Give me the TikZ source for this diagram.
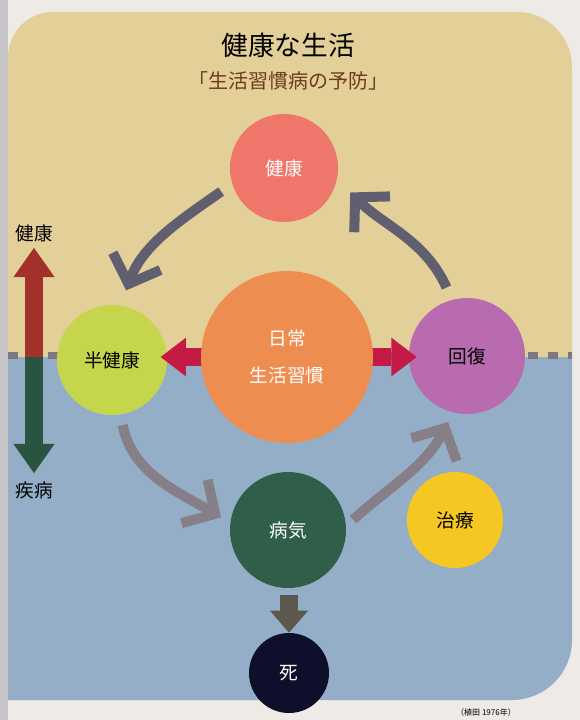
\documentclass[tikz,border=0pt]{standalone}
\usepackage{fontspec}
\setmainfont{Noto Sans CJK JP}
\usetikzlibrary{arrows.meta}

\pgfdeclarelayer{front}
\pgfsetlayers{main,front}

\definecolor{paper}{RGB}{238,234,229}
\definecolor{strip}{RGB}{200,197,200}
\definecolor{sand}{RGB}{227,207,152}
\definecolor{sea}{RGB}{148,174,200}
\definecolor{seam}{RGB}{125,120,128}
\definecolor{cKenko}{RGB}{238,118,106}
\definecolor{cHan}{RGB}{197,214,76}
\definecolor{cNichijo}{RGB}{238,141,80}
\definecolor{cKaifuku}{RGB}{184,107,174}
\definecolor{cByoki}{RGB}{47,94,73}
\definecolor{cChiryo}{RGB}{246,199,34}
\definecolor{cShi}{RGB}{14,15,42}
\definecolor{loopTop}{RGB}{96,95,112}
\definecolor{loopLow}{RGB}{135,127,135}
\definecolor{crimson}{RGB}{196,26,69}
\definecolor{fall}{RGB}{92,88,78}
\definecolor{upRed}{RGB}{162,48,43}
\definecolor{downGreen}{RGB}{42,84,66}
\definecolor{subBrown}{RGB}{110,59,31}

\tikzset{every picture/.style={line width=0.75pt},
  ball/.style={circle,inner sep=0pt,align=center,font=\fontsize{14}{28}\selectfont},
  sidelabel/.style={inner sep=0pt,font=\fontsize{14}{16}\selectfont},
  looparrow/.style={line width=7.5pt,-{Straight Barb[length=18pt,width=38pt]}},
  sidearrow/.style={line width=13.5pt,-{Triangle[length=22pt,width=31pt,line width=0pt]}},
  pusharrow/.style={line width=14pt,crimson,-{Triangle[length=19pt,width=29pt,line width=0pt]}}
}

\begin{document}
\begin{tikzpicture}[x=0.75pt,y=0.75pt,yscale=-1,xscale=1]
\useasboundingbox (0,0) rectangle (580,720);

%Shape: Background
\fill[paper] (0,0) rectangle (580,720);
\fill[strip] (0,0) rectangle (8,720);
%Shape: Upper panel
\fill[sand] (8,357) -- (8,57) arc[start angle=180,end angle=270,radius=45] -- (517,12) arc[start angle=270,end angle=360,radius=55] -- (572,357) -- cycle;
%Shape: Lower panel
\fill[sea] (8,357) -- (572,357) -- (572,640) arc[start angle=0,end angle=90,radius=60] -- (8,700) -- cycle;
%Straight Lines: seam
\draw[seam,line width=5pt,dash pattern=on 7.5pt off 7.5pt] (8,355.5) -- (572,355.5);

% Text Node
\node[font=\fontsize{20}{24}\selectfont] (title) at (288,45) {健康な生活};
% Text Node
\node[font=\fontsize{15}{18}\selectfont,text=subBrown] (subtitle) at (288,81) {「生活習慣病の予防」};

%Shape: Circles
\begin{pgfonlayer}{front}
\node[ball,minimum size=129pt,fill=cNichijo,text=white] (nichijo) at (287,357) {日常\\生活習慣};
\end{pgfonlayer}
\node[ball,minimum size=81pt,fill=cKenko,text=white] (kenko) at (284,168) {健康};
\node[ball,minimum size=82.5pt,fill=cHan] (han) at (112,360) {半健康};
\node[ball,minimum size=87pt,fill=cKaifuku] (kaifuku) at (467,356) {回復};
\node[ball,minimum size=87pt,fill=cByoki,text=white] (byoki) at (288,530) {病気};
\node[ball,minimum size=72pt,fill=cChiryo] (chiryo) at (455,520) {治療};
\node[ball,minimum size=60pt,fill=cShi,text=white] (shi) at (289,673) {死};

%Curved Lines: cycle (angles flipped by yscale=-1)
\draw[looparrow,loopTop,shorten <=10pt,shorten >=12pt] (kenko.197) to[out=145,in=290] (han.81);
\draw[looparrow,loopTop,shorten <=10pt,shorten >=14pt] (kaifuku.105) to[out=246,in=45] (kenko.-12);
\draw[looparrow,loopLow,shorten <=8pt,shorten >=8pt] (han.279) to[out=79,in=211] (byoki.173);
\draw[looparrow,loopLow,shorten <=7pt,shorten >=8pt] (byoki.4) to[out=318,in=117] (kaifuku.256);

%Straight Lines: push
\draw[pusharrow,shorten <=-10pt,shorten >=-5pt] (nichijo.west) -- (han.east |- nichijo.west);
\draw[pusharrow,shorten <=-10pt,shorten >=-6pt] (nichijo.east) -- (kaifuku.west |- nichijo.east);
%Straight Lines: fall
\draw[line width=13.5pt,fall,-{Triangle[length=16.5pt,width=28.5pt,line width=0pt]},shorten <=5pt] (byoki.south -| shi.north) -- (shi.north);

%Side scale
\coordinate (split) at (34,357);
\node[sidelabel] (up) at (34,233) {健康};
\node[sidelabel] (down) at (34,490) {疾病};
\draw[sidearrow,upRed,shorten >=4.5pt] (split) -- (up.south);
\draw[sidearrow,downGreen,shorten >=6pt] (split) -- (down.north);

% Text Node
\node[font=\fontsize{6}{7}\selectfont] (source) at (486,712) {（植田 1976年）};

\end{tikzpicture}
\end{document}
